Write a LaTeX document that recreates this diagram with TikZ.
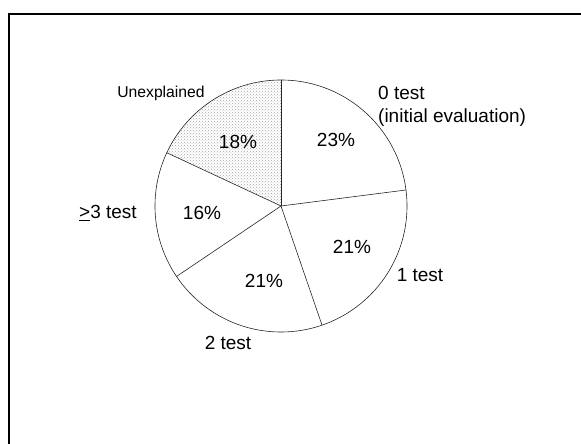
\documentclass[tikz,border=0pt]{standalone}
\usepackage{fontspec}
\setmainfont{Liberation Sans}
\usetikzlibrary{patterns}

\begin{document}
\begin{tikzpicture}[x=1pt,y=1pt]
        \tikzstyle{every node}+=[inner sep=0pt]
        \tikzstyle{lbl}=[font=\fontsize{19}{23}\selectfont]
        \tikzstyle{smalllbl}=[font=\fontsize{15.7}{18}\selectfont]
        \tikzstyle{wedge}=[draw=black!85, line width=0.6pt]
        \useasboundingbox (0,0) rectangle (581,444);
        \clip (0,0) rectangle (581,444);
        % frame
        \draw [black, line width=1.5pt] (9,-10) -- (9,430) -- (600,430);
        % pie
        \coordinate (c) at (281,238);
        \fill [pattern=crosshatch dots, pattern color=gray!70] (c) -- ++(90:126) arc (90:155:126) -- cycle;
        \draw [wedge] (c) circle (126);
        \foreach \a in {90,7.3,-71,-146,155}
          \draw [wedge] (c) -- ++(\a:126);
        % percentages
        \node [lbl] (p0) at (336,304) {23\%};
        \node [lbl] (p1) at (352,197) {21\%};
        \node [lbl] (p2) at (264,163) {21\%};
        \node [lbl] (p3) at (202,231) {16\%};
        \node [lbl] (pu) at (238,302) {18\%};
        % labels
        \node [lbl, anchor=north west, align=left] (l0) at (378,358) {0 test\\(initial evaluation)};
        \node [lbl] (l1) at (420,169) {1 test};
        \node [lbl] (l2) at (228,101) {2 test};
        \node [lbl] (l3) at (108,231) {\underline{>}3 test};
        \node [smalllbl] (lu) at (161,351) {Unexplained};
\end{tikzpicture}
\end{document}
